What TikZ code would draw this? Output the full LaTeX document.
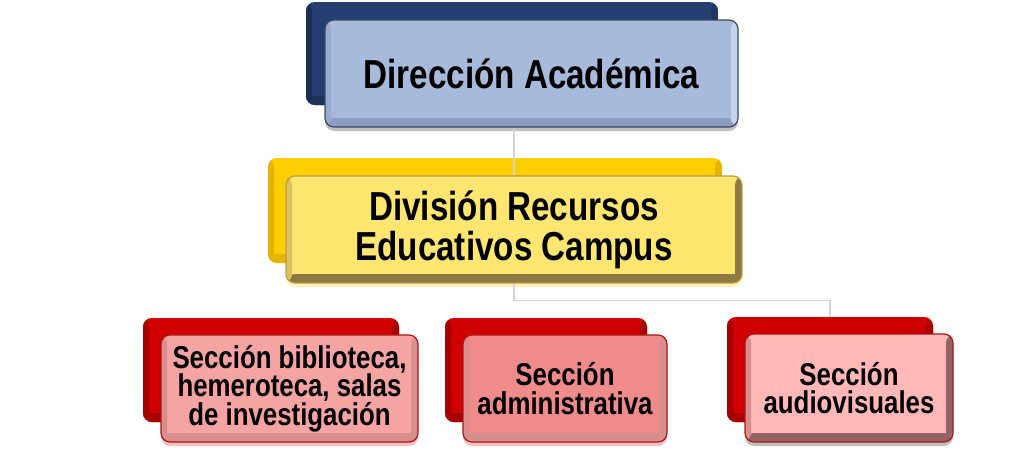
\documentclass[tikz,border=0pt]{standalone}
\usepackage{fontspec}
\setmainfont[FakeStretch=0.82]{Liberation Sans}
\usetikzlibrary{shadows}

\definecolor{navy}{HTML}{243F70}
\definecolor{bluefront}{HTML}{A8BADC}
\definecolor{bluebot}{HTML}{8E9EC2}
\definecolor{blueright}{HTML}{C6D4EF}
\definecolor{blueleft}{HTML}{9AABCF}
\definecolor{blueedge}{HTML}{3A4A68}
\definecolor{goldback}{HTML}{FFCE00}
\definecolor{goldleft}{HTML}{E6B400}
\definecolor{goldfront}{HTML}{FFE670}
\definecolor{goldbot}{HTML}{8C7A42}
\definecolor{goldside}{HTML}{DCC062}
\definecolor{goldedge}{HTML}{B8A040}
\definecolor{redback}{HTML}{D00000}
\definecolor{redleft}{HTML}{A80000}
\definecolor{pinkbib}{HTML}{F5A3A3}
\definecolor{pinkadm}{HTML}{EF8B8B}
\definecolor{pinkaud}{HTML}{FFB7B7}
\definecolor{pinkbot}{HTML}{946262}
\definecolor{pinkside}{HTML}{D98E8E}
\definecolor{rededge}{HTML}{A81818}
\definecolor{linkgray}{HTML}{D4D4D4}

\tikzset{
  bevel/.style n args={3}{path picture={
    \fill[#1] ([yshift=9pt]path picture bounding box.south west) rectangle (path picture bounding box.south east);
    \fill[#2] ([xshift=-7pt]path picture bounding box.north east) rectangle (path picture bounding box.south east);
    \fill[#3] (path picture bounding box.north west) rectangle ([xshift=6pt]path picture bounding box.south west);
  }},
  backbox/.style 2 args={rectangle, rounded corners=9pt, inner sep=0pt, minimum width=#1pt, minimum height=#2pt},
  frontbox/.style 2 args={rectangle, rounded corners=9pt, inner sep=0pt, line width=1.2pt, align=center,
    minimum width=#1pt, minimum height=#2pt, font=\bfseries},
  shade/.style={drop shadow={shadow xshift=0pt, shadow yshift=-4pt, opacity=0.25, fill=#1}},
  link/.style={draw=linkgray, line width=1.3pt},
}

\begin{document}
\begin{tikzpicture}[x=1pt,y=-1pt]
\fill[white] (0,0) rectangle (1024,469);
\useasboundingbox (0,0) rectangle (1024,469);

% top level
\node[backbox={412}{103}, fill=navy, bevel={navy!80!black}{navy!85!black}{navy!75!black}] (dirback) at (512,53.5) {};
\node[frontbox={413}{107}, fill=bluefront, draw=blueedge, shade=black, bevel={bluebot}{blueright}{blueleft},
  font=\bfseries\fontsize{40.5}{44}\selectfont] (dir) at (531.5,73.5) {Dirección Académica};

% division
\node[backbox={454}{105}, fill=goldback, bevel={goldleft}{goldleft}{goldleft}] (divback) at (495,210.5) {};
\node[frontbox={456}{107}, fill=goldfront, draw=goldedge, shade=goldback, bevel={goldbot}{goldbot}{goldside},
  font=\bfseries\fontsize{40.5}{40}\selectfont] (div) at (514,229.5) {División Recursos\\Educativos Campus};

% sections
\node[backbox={256}{104}, fill=redback, bevel={redleft}{redleft}{redleft}] (bibback) at (271,370) {};
\node[frontbox={257}{107}, fill=pinkbib, draw=rededge, shade=redback, bevel={pinkside}{pinkside}{pinkside},
  font=\bfseries\fontsize{31.5}{28.5}\selectfont] (bib) at (289.5,388.5) {Sección biblioteca,\\hemeroteca, salas\\de investigación};

\node[backbox={202}{104}, fill=redback, bevel={redleft}{redleft}{redleft}] (admback) at (546,370) {};
\node[frontbox={204}{107}, fill=pinkadm, draw=rededge, shade=redback, bevel={pinkside}{pinkside}{pinkside},
  font=\bfseries\fontsize{31.5}{28.5}\selectfont] (adm) at (565,388.5) {Sección\\administrativa};

\node[backbox={206}{105}, fill=redback, bevel={redleft}{redleft}{redleft}] (audback) at (830,369.5) {};
\node[frontbox={208}{108}, fill=pinkaud, draw=rededge, shade=black, bevel={pinkbot}{pinkbot}{pinkside},
  font=\bfseries\fontsize{31.5}{28.5}\selectfont] (aud) at (849,388) {Sección\\audiovisuales};

% connectors
\draw[link] (div.north) -- (div.north |- dir.south);
\draw[link] (div.south) -- ++(0,17) -| (audback.north);
\end{tikzpicture}
\end{document}
